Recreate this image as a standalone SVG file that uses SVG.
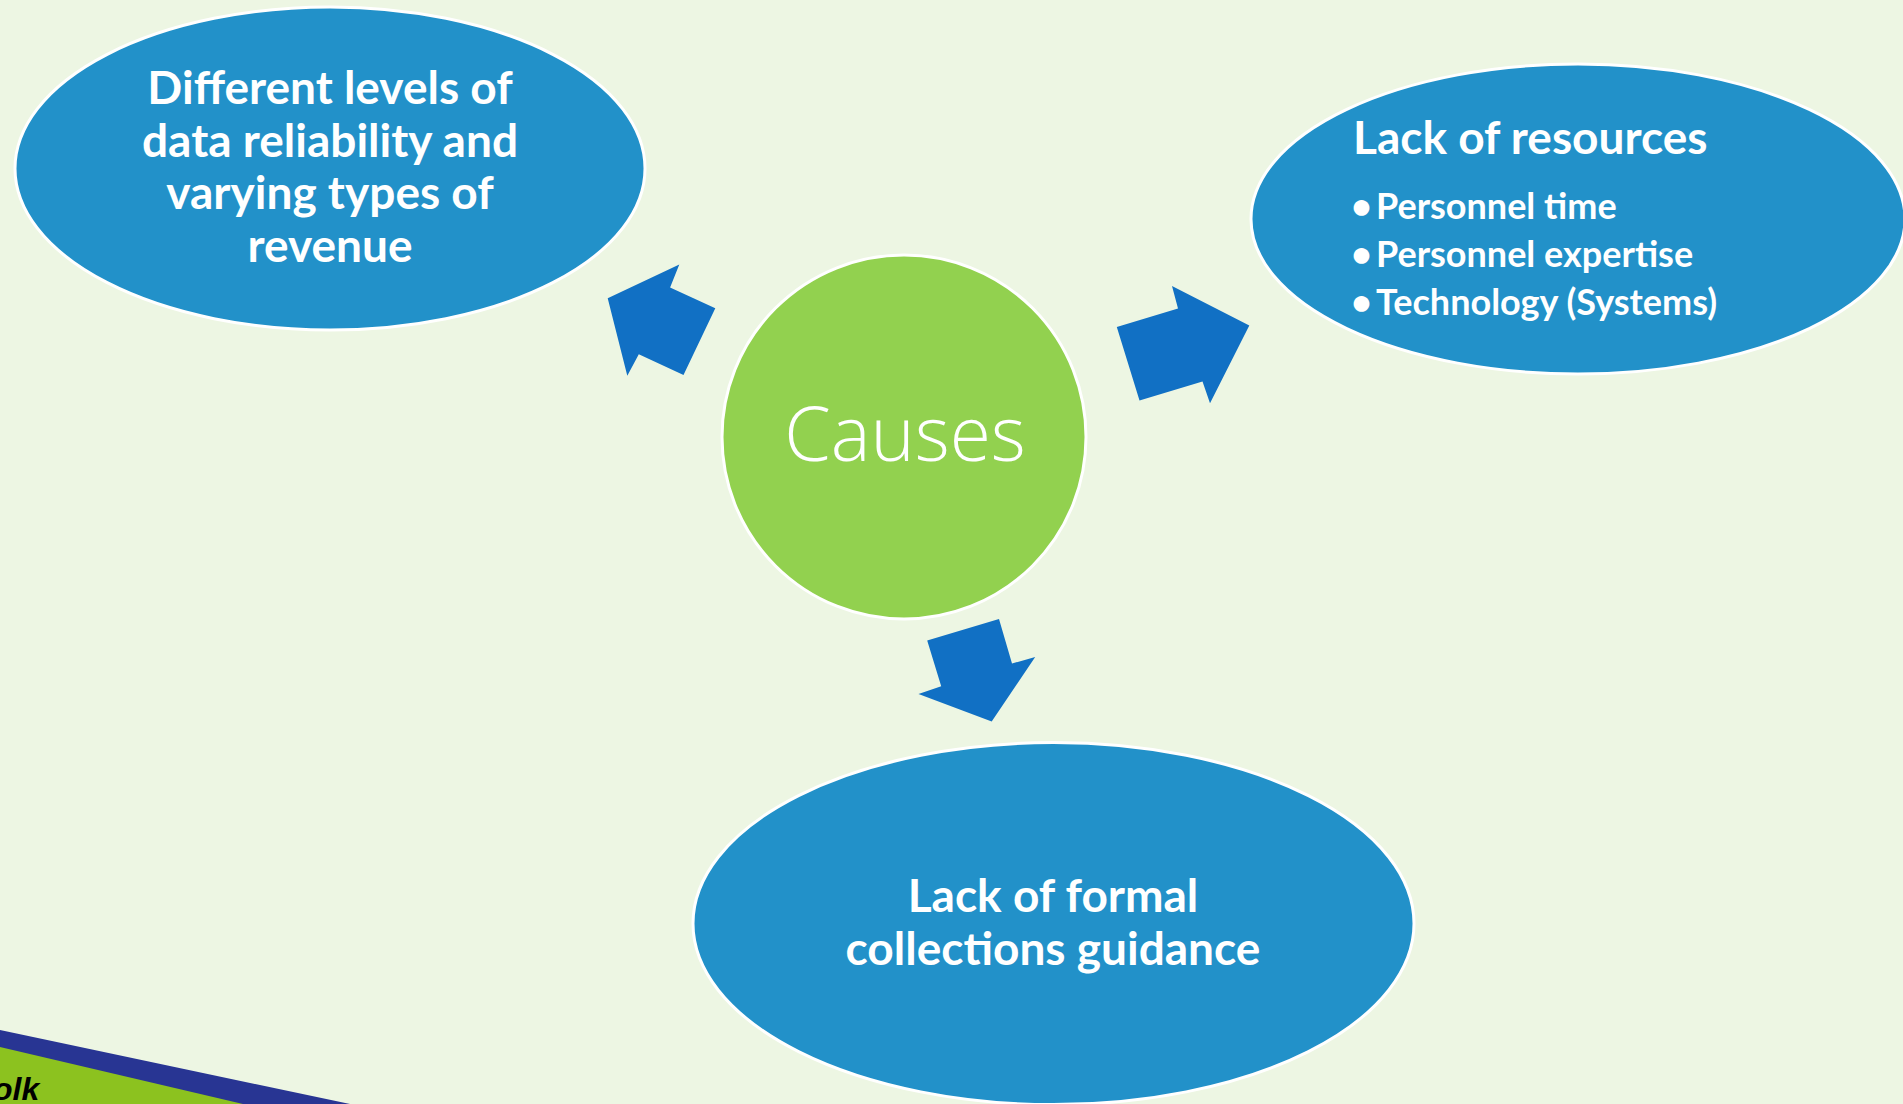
<svg xmlns="http://www.w3.org/2000/svg" width="1903" height="1104" viewBox="0 0 1903 1104">
<style>
.bg{fill:#EDF6E3}
.oval{fill:#2291C9;stroke:#FFFFFF;stroke-width:3}
.hub{fill:#92D14F;stroke:#FFFFFF;stroke-width:3}
.arrow{fill:#1170C4}
.t{font-family:Lato,"Open Sans","Liberation Sans",sans-serif;font-weight:700;fill:#FFFFFF;font-size:46px}
.c{text-anchor:middle}
.b{font-size:36px}
.hubt{font-family:"Open Sans",Lato,"Liberation Sans",sans-serif;font-weight:300;fill:#FFFFFF;font-size:75px;text-anchor:middle}
.logo{font-family:"Liberation Sans",Arial,sans-serif;font-weight:700;font-style:italic;font-size:32px;fill:#000000}
</style>
<rect class="bg" x="0" y="0" width="1903" height="1104"/>
<g id="footer">
<polygon points="0,1030 350,1104 0,1104" fill="#283593"/>
<polygon points="0,1047 243,1104 0,1104" fill="#8CC21F"/>
<text class="logo" x="-7" y="1100">olk</text>
</g>
<g id="connectors">
<polygon class="arrow" points="607.7,298.3 679.3,264.5 670.1,287.4 715.3,308.2 683.5,375 638.8,354.2 627.3,375.8"/>
<polygon class="arrow" points="1116.8,327 1178,308.5 1172,286 1249.3,325.5 1210,403.3 1202.5,381.5 1139.5,400.4"/>
<polygon class="arrow" points="927.2,640.4 999,619 1012,663.5 1035.2,657 991.7,721.4 918.5,694 941.2,686.2"/>
</g>
<g id="node-data">
<ellipse class="oval" cx="330" cy="168.5" rx="315" ry="161.5"/>
<text class="t c" x="330" y="104">Different levels of</text>
<text class="t c" x="330" y="156.5">data reliability and</text>
<text class="t c" x="330" y="209">varying types of</text>
<text class="t c" x="330" y="262">revenue</text>
</g>
<g id="node-resources">
<ellipse class="oval" cx="1578" cy="219" rx="327" ry="155"/>
<text class="t" x="1353" y="154">Lack of resources</text>
<text class="t b" y="219"><tspan x="1351">•</tspan><tspan x="1376">Personnel time</tspan></text>
<text class="t b" y="267"><tspan x="1351">•</tspan><tspan x="1376">Personnel expertise</tspan></text>
<text class="t b" y="315"><tspan x="1351">•</tspan><tspan x="1376">Technology (Systems)</tspan></text>
</g>
<g id="node-guidance">
<ellipse class="oval" cx="1053.5" cy="923.6" rx="360.5" ry="181"/>
<text class="t c" x="1053" y="912">Lack of formal</text>
<text class="t c" x="1053" y="965">collections guidance</text>
</g>
<g id="node-causes">
<circle class="hub" cx="904" cy="437" r="182"/>
<text class="hubt" x="905" y="461">Causes</text>
</g>
</svg>
